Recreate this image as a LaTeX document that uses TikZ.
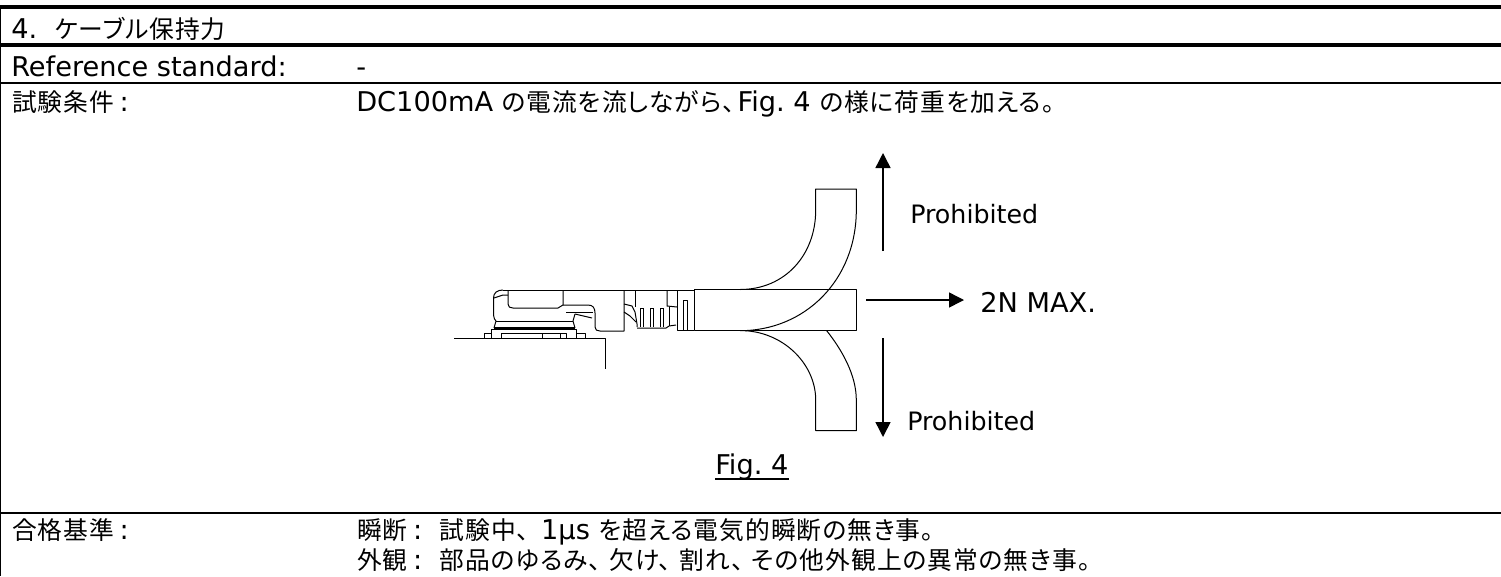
\documentclass[tikz,border=0pt]{standalone}
\usepackage{fontspec}
\setmainfont{DejaVu Sans}
\newfontfamily\cjk[RawFeature=+palt,Scale=0.91,LetterSpace=4]{Noto Sans CJK JP}
\newcommand{\jp}[1]{{\cjk #1}}
\newcommand{\tenkan}[1]{\jp{、}\hspace{#1}}
\usetikzlibrary{arrows.meta}
\tikzset{
  tabletext/.style={anchor=base west,inner sep=0pt,font=\fontsize{20.4pt}{25pt}\selectfont},
  figtext/.style={anchor=base west,inner sep=0pt,font=\fontsize{19pt}{23pt}\selectfont},
  figline/.style={line width=0.75pt,line join=round},
  loadarrow/.style={line width=1.1pt,-{Triangle[length=11.25pt,width=11.25pt]}}
}
\begin{document}
\begin{tikzpicture}[x=0.75pt,y=0.75pt,yscale=-1,xscale=1]
        \useasboundingbox (0,0) rectangle (1501,576);
        %Shape: Table rules
        \draw [line width=3pt] (0,7) -- (1501,7) ;
        \draw [line width=3pt] (0,45) -- (1501,45) ;
        \draw [line width=1.5pt] (0,82.5) -- (1501,82.5) ;
        \draw [line width=1.5pt] (0,512.5) -- (1501,512.5) ;
        \draw [line width=1pt] (0.5,7) -- (0.5,576) ;

        % Text Node
        \draw (11,38) node (titleText) [tabletext] {4.\ \ \jp{ケーブル保持力}};
        \draw (11,76) node (refLabel) [tabletext] {Reference standard:};
        \draw (356,76) node (refValue) [tabletext] {-};
        \draw (12,111) node (condLabel) [tabletext] {\jp{試験条件}\hspace{4pt}:};
        \draw (356,111) node (condValue) [tabletext] {DC100mA \jp{の電流を流しながら}\tenkan{2pt}Fig.\ 4 \jp{の様に荷重を加える。}};
        \draw (12,539) node (passLabel) [tabletext] {\jp{合格基準}\hspace{4pt}:};
        \draw (357,539) node (passOne) [tabletext] {\jp{瞬断}\hspace{4pt}:\ \ \jp{試験中}\tenkan{9pt}1μs \jp{を超える電気的瞬断の無き事。}};
        \draw (357,569) node (passTwo) [tabletext] {\jp{外観}\hspace{4pt}:\ \ \jp{部品のゆるみ}\tenkan{6pt}\jp{欠け}\tenkan{6pt}\jp{割れ}\tenkan{6pt}\jp{その他外観上の異常の無き事。}};

        %Shape: Cable straight
        \draw [figline] (694.3,289.5) -- (856.3,289.5) -- (856.3,330.7) -- (694.3,330.7) -- cycle ;
        %Shape: Cable bent up
        \draw [figline] (740,289.5) .. controls (785,289.5) and (815.7,255) .. (815.7,210) -- (815.7,189) -- (856.3,189) -- (856.3,210) .. controls (856.3,280) and (805,330.7) .. (740,330.7) ;
        %Shape: Cable bent down
        \draw [figline] (745,330.7) .. controls (785,333) and (815.7,365) .. (815.7,400) -- (815.7,430.7) -- (856.3,430.7) -- (856.3,400) .. controls (856.3,375) and (842,350) .. (826.7,330.7) ;
        %Shape: Connector body
        \draw [figline] (503,290) .. controls (497,290) and (493.5,293) .. (493.5,298) -- (493.5,315) .. controls (493.5,318) and (495,320) .. (496,321) -- (494,328) ;
        \draw [figline] (503,290) -- (694.3,290) ;
        \draw [figline] (508,290) -- (508,304) .. controls (508,307) and (510,308) .. (513,308) -- (558,308) -- (563,305) -- (563,290) ;
        \draw [figline] (563,305) -- (588,305) .. controls (593,305) and (595,308) .. (595,313) -- (595,327) .. controls (595,330) and (597,331) .. (600,331) -- (624,331) -- (624,290) ;
        \draw [figline] (494,298) .. controls (497,297) and (500,296) .. (503,295) -- (508,295) ;
        \draw [figline] (566,312) -- (593,312) ;
        \draw [figline] (575,314) -- (592,318) ;
        \draw [figline] (575,314) -- (573,321) -- (575,328) ;
        \draw [figline] (496,321) -- (573,321) ;
        \draw [line width=1.6pt] (494,328) -- (575,328) ;
        %Shape: Connector plate
        \draw [figline] (491.7,338.5) -- (491.7,329) -- (576.7,329) -- (576.7,338.5) ;
        \draw [figline] (484,338.5) -- (484,333) -- (491.7,333) ;
        \draw [figline] (576.7,333) -- (585,333) -- (585,338.5) ;
        \draw [figline] (501.7,338.5) -- (501.7,333) -- (566.7,333) -- (566.7,338.5) ;
        \draw [figline] (542.7,333) -- (542.7,338.5) ;
        \draw [figline] (560.7,333) -- (560.7,338.5) ;
        %Shape: Board
        \draw [figline] (454,338.7) -- (605.7,338.7) -- (605.7,368.5) ;
        %Shape: Strain relief
        \draw [figline] (635,290) -- (635,307) ;
        \draw [figline] (667,290) -- (667,306) -- (677,307) ;
        \draw [figline] (677,290) -- (677,330.7) -- (694.3,330.7) ;
        \draw [figline] (624,304) -- (632,306) -- (635,312) -- (637,324) -- (637,327) ;
        \draw [figline] (624,312) -- (630,316) -- (636,322) ;
        \foreach \ribx in {640,650,660} {
          \draw [figline] (\ribx,308) -- (\ribx,327) ;
          \draw [figline] (\ribx+3,308) -- (\ribx+3,327) ;
          \draw [figline] (\ribx,308) -- (\ribx+3,308) ;
        }
        \draw [figline] (637,328) -- (666,328) -- (669,326) -- (676,325) ;
        \draw [figline] (669,307) -- (669,326) ;
        \draw [figline] (683,330) -- (683,300) -- (687,300) -- (687,330) ;

        %Shape: Load arrows
        \coordinate (upStart) at (883,251);
        \coordinate (upTip) at (883,153);
        \coordinate (rightStart) at (866,300);
        \coordinate (rightTip) at (964,300);
        \coordinate (downStart) at (883,338);
        \coordinate (downTip) at (883,437);
        \draw [loadarrow] (upStart) -- (upTip) ;
        \draw [loadarrow] (rightStart) -- (rightTip) ;
        \draw [loadarrow] (downStart) -- (downTip) ;

        % Text Node
        \draw (910,223) node (prohibitedUp) [figtext] {Prohibited};
        \draw (907,430) node (prohibitedDown) [figtext] {Prohibited};
        \draw (980,312) node (forceLabel) [tabletext] {2N MAX.};
        \draw (715,474) node (figLabel) [tabletext] {Fig.\ 4};
        \draw [line width=1.5pt] ([yshift=3.75pt]figLabel.base west) -- ([yshift=3.75pt]figLabel.base east);
\end{tikzpicture}
\end{document}
